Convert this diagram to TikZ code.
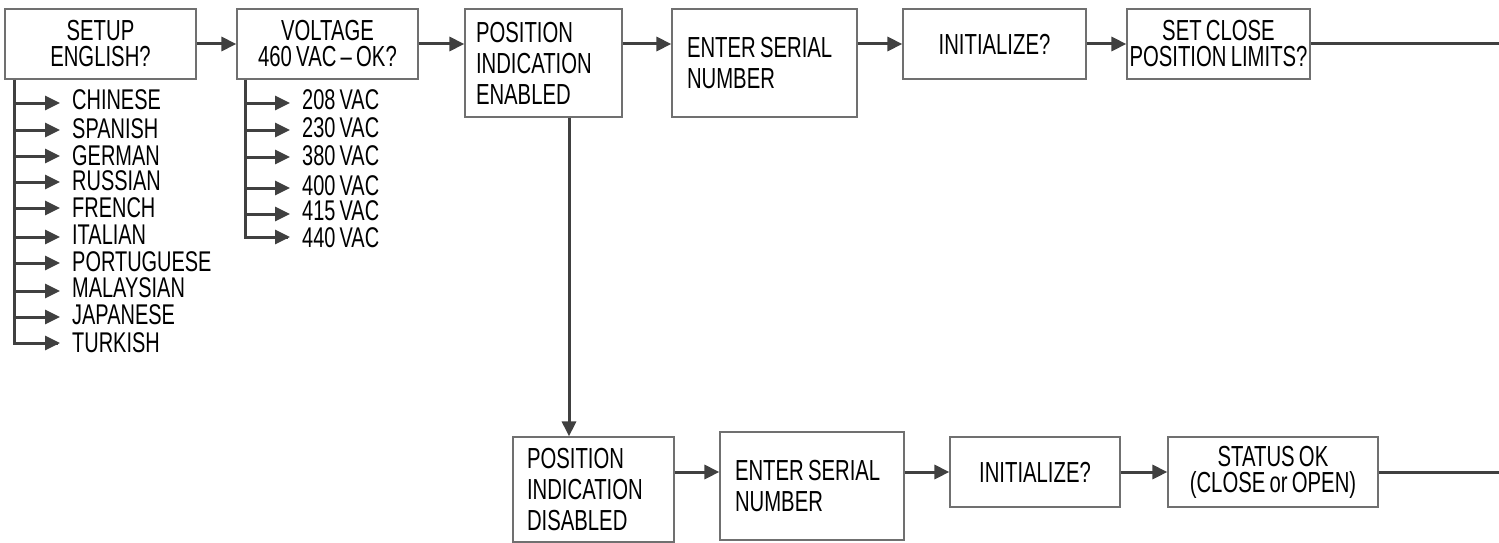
\documentclass[tikz,border=0pt]{standalone}
\usepackage{fontspec}
\setmainfont{Liberation Sans}[FakeStretch=0.7, WordSpace=0.75]
\usetikzlibrary{arrows.meta}
\definecolor{ln}{HTML}{404040}
\definecolor{bx}{HTML}{707070}
\begin{document}
\begin{tikzpicture}[x=1pt,y=-1pt,
  box/.style={draw=bx, line width=1.2pt, inner sep=0pt, text=black},
  ctr/.style={box, align=center, font=\fontsize{29}{26}\selectfont},
  lft/.style={box, align=flush left, font=\fontsize{29}{31}\selectfont},
  item/.style={inner sep=0pt, anchor=base west, font=\fontsize{28.5}{26}\selectfont},
  arr/.style={draw=ln, line width=3pt, -{Triangle[length=15pt,width=14pt]}},
  ln/.style={draw=ln, line width=3pt}]
\useasboundingbox (0,0) rectangle (1499,543);
% top row
\node[ctr, minimum width=191pt, minimum height=70pt] (b1) at (100.5,44) {SETUP\\ENGLISH?};
\node[ctr, minimum width=181pt, minimum height=70pt] (b2) at (327.5,44) {VOLTAGE\\460 VAC -- OK?};
\node[lft, minimum width=157pt, minimum height=108pt, text width=135pt] (b3) at (543.5,63) {POSITION\\INDICATION\\ENABLED};
\node[lft, minimum width=185pt, minimum height=108pt, text width=155pt] (b4) at (764.5,63) {ENTER SERIAL\\NUMBER};
\node[ctr, minimum width=183pt, minimum height=70pt] (b5) at (994.5,44) {INITIALIZE?};
\node[ctr, minimum width=183pt, minimum height=70pt] (b6) at (1218.5,44) {SET CLOSE\\POSITION LIMITS?};
\coordinate (e1) at (1499,44);
% bottom row
\node[lft, minimum width=161pt, minimum height=105pt, text width=133pt] (b7) at (593.5,489.5) {POSITION\\INDICATION\\DISABLED};
\node[lft, minimum width=184pt, minimum height=108pt, text width=154pt] (b8) at (812,486) {ENTER SERIAL\\NUMBER};
\node[ctr, minimum width=170pt, minimum height=70pt] (b9) at (1035,472) {INITIALIZE?};
\node[ctr, minimum width=210pt, minimum height=70pt] (b10) at (1273,472) {STATUS OK\\(CLOSE or OPEN)};
\coordinate (e2) at (1499,472);
% connectors top
\draw[arr] (b1.east) -- (b2.west);
\draw[arr] (b2.east) -- (b3.west |- b2.east);
\draw[arr] (b3.east |- b2.east) -- (b4.west |- b2.east);
\draw[arr] (b4.east |- b2.east) -- (b5.west);
\draw[arr] (b5.east) -- (b6.west);
\draw[ln] (b6.east) -- (e1);
% down
\draw[arr] ([xshift=25.5pt]b3.south) -- ([xshift=25.5pt]b3.south |- b7.north);
% bottom connectors
\draw[arr] (b7.east |- b9.west) -- (b8.west |- b9.west);
\draw[arr] (b8.east |- b9.west) -- (b9.west);
\draw[arr] (b9.east) -- (b10.west);
\draw[ln] (b10.east) -- (e2);
% language list
\coordinate (t1) at (14,0);
\foreach \n/\y/\b/\t in {1/103/110/CHINESE,2/130/138/SPANISH,3/156/165/GERMAN,4/182/190.5/RUSSIAN,5/208/217/FRENCH,6/237/244/ITALIAN,7/263/271/PORTUGUESE,8/291/297.5/MALAYSIAN,9/317/324/JAPANESE,10/343/352/TURKISH}{
  \node[item] (l\n) at (72,\b) {\t};
  \coordinate (la\n) at (60,\y);
  \draw[arr] (t1 |- la\n) -- (la\n);
}
\draw[ln] (b1.south -| t1) |- ([xshift=-2pt]la10);
% voltage list
\coordinate (t2) at (245,0);
\foreach \n/\y/\b/\t in {1/103/110/208 VAC,2/130/137/230 VAC,3/157/165/380 VAC,4/188/195/400 VAC,5/214/220/415 VAC,6/237/247/440 VAC}{
  \node[item] (v\n) at (302,\b) {\t};
  \coordinate (va\n) at (290,\y);
  \draw[arr] (t2 |- va\n) -- (va\n);
}
\draw[ln] (b2.south -| t2) |- ([xshift=-2pt]va6);
\end{tikzpicture}
\end{document}
